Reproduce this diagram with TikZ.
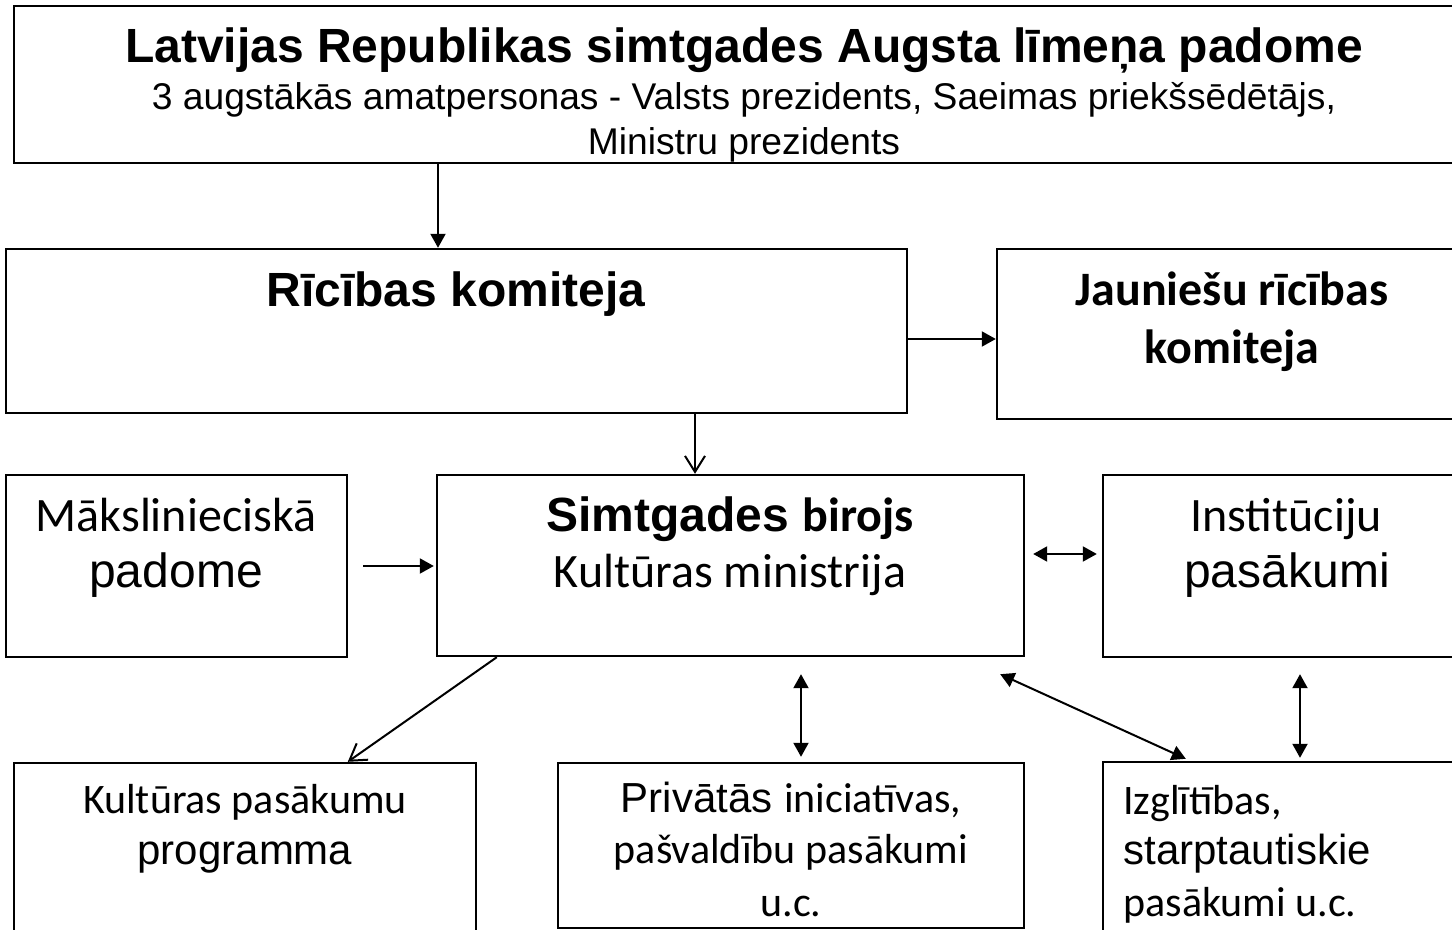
\documentclass[tikz,border=0pt]{standalone}
\usepackage{fontspec}
\setmainfont{Liberation Sans}
\newfontfamily\calfont{Carlito}
\usetikzlibrary{arrows.meta,calc}
\begin{document}
\begin{tikzpicture}[x=0.5pt,y=-0.5pt,
  box/.style={draw=black, line width=1.2pt, inner sep=0pt, fill=white},
  txt/.style={anchor=base, inner sep=0pt, text=black},
  txtl/.style={anchor=base west, inner sep=0pt, text=black},
  conn/.style={draw=black, line width=1pt},
  fa/.style={conn, -{Triangle[length=7pt,width=7.5pt]}},
  fab/.style={conn, {Triangle[length=7pt,width=7.5pt]}-{Triangle[length=7pt,width=7.5pt]}},
  oa/.style={conn, -{Straight Barb[length=8pt,width=10pt,line width=1pt]}},
  big/.style={font=\fontsize{24}{28}\selectfont},
  small/.style={font=\fontsize{21}{25}\selectfont}
]
\useasboundingbox (0,0) rectangle (1452,930);
\clip (0,0) rectangle (1452,930);
\fill[white] (0,0) rectangle (1452,930);

% boxes
\node[box, minimum width=728pt, minimum height=78.5pt] (top) at (742,84.5) {};
\node[box, minimum width=450.5pt, minimum height=82pt] (ric) at (456.5,331) {};
\node[box, minimum width=236.5pt, minimum height=85pt] (jaun) at (1233.5,334) {};
\node[box, minimum width=170.5pt, minimum height=91pt] (mak) at (176.5,566) {};
\node[box, minimum width=293.5pt, minimum height=90.5pt] (simt) at (730.5,565.5) {};
\node[box, minimum width=183.5pt, minimum height=91pt] (inst) at (1286.5,566) {};
\node[box, minimum width=231pt, minimum height=98.5pt] (kult) at (245,861.5) {};
\node[box, minimum width=233pt, minimum height=82.5pt] (priv) at (791,845.5) {};
\node[box, minimum width=183.5pt, minimum height=99pt] (izgl) at (1286.5,861) {};

% texts
\node[txt, font=\fontsize{24}{28}\selectfont\bfseries] (t1) at (744,63) {Latvijas Republikas simtgades Augsta līmeņa padome};
\node[txt, font=\fontsize{18.6}{22}\selectfont] (t2) at (744,110) {3 augstākās amatpersonas - Valsts prezidents, Saeimas priekšsēdētājs,};
\node[txt, font=\fontsize{18.6}{22}\selectfont] (t3) at (744,155) {Ministru prezidents};

\node[txt, font=\fontsize{24}{28}\selectfont\bfseries] (r1) at (456,307) {Rīcības komiteja};

\node[txt, font=\fontsize{24}{28}\calfont\bfseries] (j1) at (1232,306) {Jauniešu rīcības};
\node[txt, font=\fontsize{24}{28}\calfont\bfseries] (j2) at (1232,364) {komiteja};

\node[txt, font=\fontsize{24}{28}\selectfont\bfseries] (s1) at (730,531) {Simtgades {\calfont birojs}};
\node[txt, font=\fontsize{24}{28}\calfont] (s2) at (730,588) {Kultūras ministrija};

\node[txt, font=\fontsize{24}{28}\calfont] (m1) at (176,531) {Mākslinieciskā};
\node[txt, big] (m2) at (176,588) {padome};

\node[txt, font=\fontsize{24}{28}\calfont] (i1) at (1286,531) {Institūciju};
\node[txt, big] (i2) at (1287,588) {pasākumi};

\node[txt, font=\fontsize{21}{25}\calfont] (k1) at (245,813) {Kultūras pasākumu};
\node[txt, small] (k2) at (245,864) {programma};

\node[txt, small] (p1) at (791,812) {Privātās {\calfont iniciatīvas,}};
\node[txt, font=\fontsize{21}{25}\calfont] (p2) at (791,863) {pašvaldību pasākumi};
\node[txt, font=\fontsize{21}{25}\calfont] (p3) at (791,916) {u.c.};

\node[txtl, font=\fontsize{21}{25}\calfont] (z1) at (1123,814) {Izglītības,};
\node[txtl, small] (z2) at (1123,864) {starptautiskie};
\node[txtl, font=\fontsize{21}{25}\calfont] (z3) at (1123,916) {pasākumi u.c.};

% connectors
\coordinate (c1) at (438,0);
\draw[fa] (top.south -| c1) -- (ric.north -| c1);
\coordinate (c2) at (695,0);
\draw[oa] (ric.south -| c2) -- (simt.north -| c2);
\coordinate (c3) at (0,339);
\draw[fa] (ric.east |- c3) -- (jaun.west |- c3);
\coordinate (c4) at (0,566);
\draw[fa, shorten <=7.5pt, shorten >=1pt] (mak.east |- c4) -- (simt.west |- c4);
\coordinate (c5) at (0,554);
\draw[fab, shorten <=4pt, shorten >=2.5pt] (simt.east |- c5) -- (inst.west |- c5);
\draw[oa] ($(simt.south west)+(61,0)$) -- ($(kult.north west)+(335,0)$);
\coordinate (c6) at (801,0);
\draw[fab, shorten <=8.5pt, shorten >=2.5pt] (simt.south -| c6) -- (priv.north -| c6);
\draw[fab] ($(simt.south east)+(-25,17)$) -- ($(izgl.north west)+(84,-2)$);
\coordinate (c7) at (1300,0);
\draw[fab, shorten <=8pt, shorten >=1.5pt] (inst.south -| c7) -- (izgl.north -| c7);
\end{tikzpicture}
\end{document}
